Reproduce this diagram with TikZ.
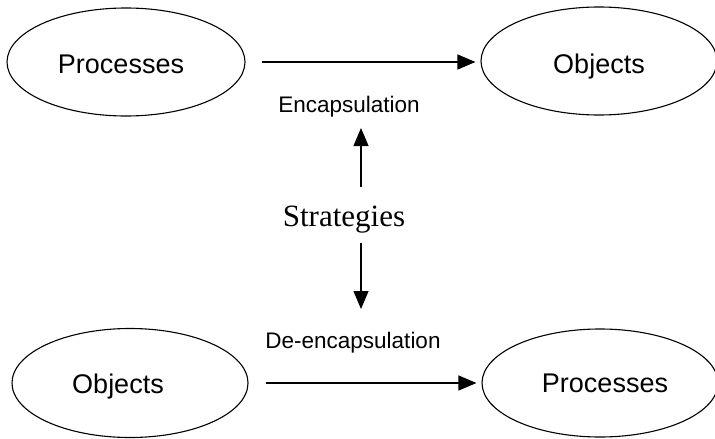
\documentclass[tikz,border=0pt]{standalone}
\usepackage{fontspec}
\setmainfont{Liberation Serif}
\setsansfont{Liberation Sans}
\usetikzlibrary{shapes.geometric,arrows.meta}
\begin{document}
\begin{tikzpicture}[x=1pt,y=-1pt,
  blob/.style={draw,ellipse,line width=1.1pt,inner sep=0pt},
  bigword/.style={font=\sffamily\fontsize{27}{27}\selectfont,anchor=base,inner sep=0pt},
  smallword/.style={font=\sffamily\fontsize{22.5}{22.5}\selectfont,anchor=base,inner sep=0pt},
  serifword/.style={font=\rmfamily\fontsize{31}{31}\selectfont,anchor=base,inner sep=0pt},
  arr/.style={line width=1.2pt,-{Triangle[length=18pt,width=15pt]}}]
\useasboundingbox (0,0) rectangle (715,439);

% the four ellipses
\node[blob,minimum width=238pt,minimum height=108pt] (procA) at (126,62) {};
\node[blob,minimum width=236pt,minimum height=108pt] (objA) at (599,61) {};
\node[blob,minimum width=236pt,minimum height=109pt] (objB) at (130,383) {};
\node[blob,minimum width=236pt,minimum height=108pt] (procB) at (600,383) {};

% their labels
\node[bigword] (tProcA) at (121,73) {Processes};
\node[bigword] (tObjA) at (599,73) {Objects};
\node[bigword] (tObjB) at (118,393) {Objects};
\node[bigword] (tProcB) at (605,392) {Processes};

% middle labels
\node[smallword] (enc) at (349,112) {Encapsulation};
\node[serifword] (strat) at (344,226) {Strategies};
\node[smallword] (denc) at (353,348) {De-encapsulation};

% horizontal arrows, stopping just short of the ellipses
\coordinate (encStart) at (262,62);
\coordinate (dencStart) at (266,383);
\draw[arr,shorten >=5pt] (encStart) -- (objA.west |- encStart);
\draw[arr,shorten >=5pt] (dencStart) -- (procB.west |- dencStart);

% vertical arrows from the strategies label
\coordinate (upFoot) at (361,187);
\coordinate (upTip) at (361,128);
\coordinate (downTop) at (361,243);
\coordinate (downTip) at (361,309);
\draw[arr] (upFoot) -- (upTip);
\draw[arr] (downTop) -- (downTip);
\end{tikzpicture}
\end{document}
